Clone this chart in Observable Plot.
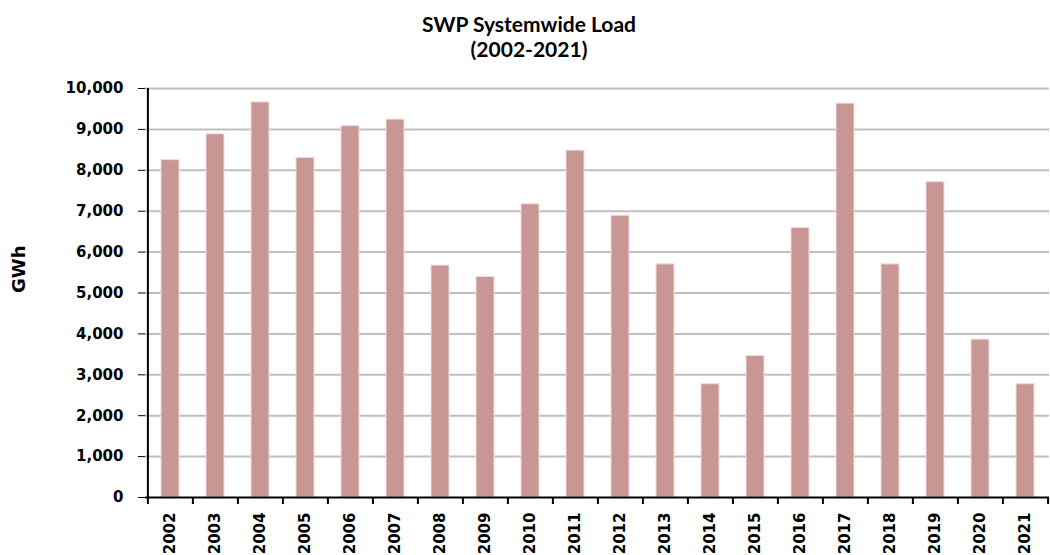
<!DOCTYPE html>
<html>
<head>
<meta charset="utf-8">
<script src="https://cdn.jsdelivr.net/npm/d3@7"></script>
<script src="https://cdn.jsdelivr.net/npm/@observablehq/plot@0.6"></script>
<style>
  html, body { margin: 0; padding: 0; background: #fff; }
  #title { width: 1050px; height: 70px; position: relative; font-family: Lato, "Open Sans", sans-serif; font-weight: bold; color: #000; }
  #title div { position: absolute; left: 0; width: 1058px; text-align: center; font-size: 21px; }
</style>
</head>
<body>
<div id="title">
  <div style="top: 11px;">SWP Systemwide Load</div>
  <div style="top: 36px;">(2002-2021)</div>
</div>
<div id="chart"></div>
<script>
const years = ["2002","2003","2004","2005","2006","2007","2008","2009","2010","2011",
               "2012","2013","2014","2015","2016","2017","2018","2019","2020","2021"];
const load = [8250, 8880, 9660, 8300, 9080, 9240, 5670, 5390, 7170, 8480,
              6890, 5700, 2770, 3460, 6590, 9630, 5700, 7710, 3860, 2770];
const yTicks = [0,1000,2000,3000,4000,5000,6000,7000,8000,9000,10000];

const data = years.map((y, i) => ({year: y, value: load[i]}));

const W = 1050, ML = 145, MR = 1;
const step = (W - ML - MR) / years.length;
const tickFont = "DejaVu Sans, Verdana, sans-serif";

const plot = Plot.plot({
  width: W,
  height: 485,
  marginTop: 18,
  marginBottom: 58,
  marginLeft: ML,
  marginRight: MR,
  style: { fontFamily: tickFont, fontSize: "15px", fontWeight: "bold", color: "#000", background: "#fff" },
  x: { domain: years, paddingInner: 0.6, paddingOuter: 0.3 },
  y: { domain: [0, 10000] },
  marks: [
    Plot.gridY(yTicks.filter(d => d > 0), { stroke: "#bfbfbf", strokeOpacity: 1, strokeWidth: 2 }),
    Plot.barY(data, { x: "year", y: "value", fill: "#c99793", stroke: "#f0dcda", strokeWidth: 1 }),
    Plot.ruleY([0], { stroke: "#000", strokeWidth: 2 }),
    Plot.ruleX([0], { x: () => years[0], dx: -step / 2, y1: 0, y2: 10000, stroke: "#000", strokeWidth: 2 }),
    Plot.ruleX(years, { x: d => d, dx: -step / 2, y1: 0, y2: 0, insetBottom: -7, stroke: "#000", strokeWidth: 2 }),
    Plot.ruleX([years[years.length - 1]], { x: d => d, dx: step / 2, y1: 0, y2: 0, insetBottom: -7, stroke: "#000", strokeWidth: 2 }),
    Plot.axisY({ ticks: yTicks, tickFormat: d => d3.format(",")(d), tickSize: 7, tickPadding: 15, tickStrokeWidth: 2, label: null, stroke: "#000" }),
    Plot.axisX({ tickSize: 0, tickPadding: 15, tickRotate: -90, label: null }),
    Plot.text(["GWh"], { frameAnchor: "left", dx: -126, rotate: -90, fontSize: 18, fontWeight: "bold", fontFamily: tickFont })
  ]
});
document.getElementById("chart").appendChild(plot);
</script>
</body>
</html>
